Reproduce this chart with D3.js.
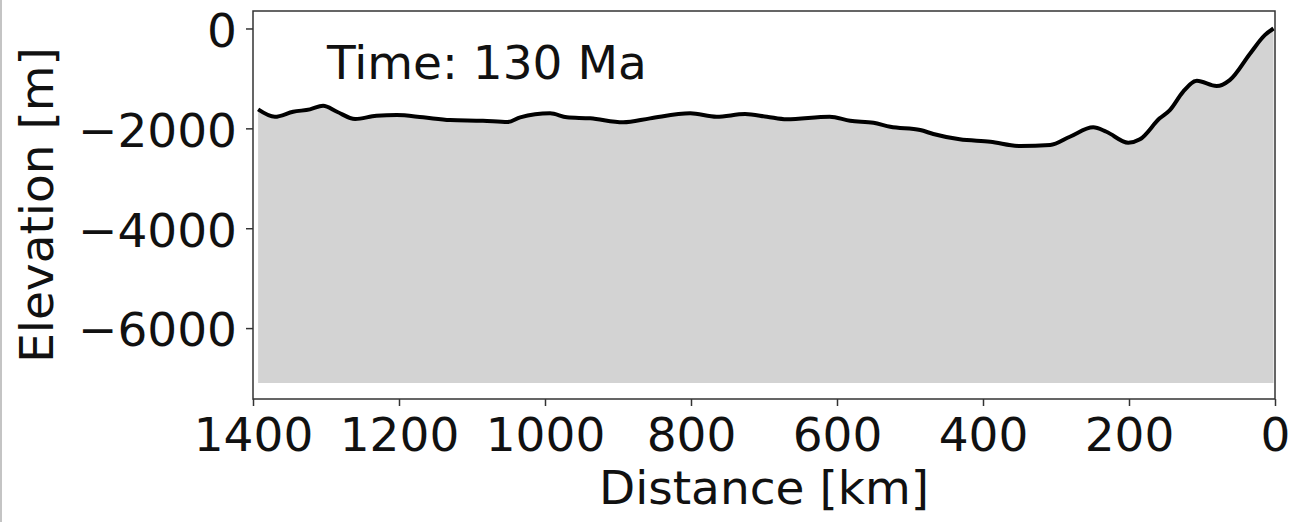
<!doctype html>
<html>
  <head>
    <meta charset="utf-8">
    <title>Elevation profile</title>
    <style>
      body { margin: 0; background: #fff; }
      svg { display: block; font-family: "DejaVu Sans", sans-serif; }
      .frame { fill: none; stroke: #333; stroke-width: 1.5px; }
      .tick line { stroke: #333; stroke-width: 1.5px; }
      .tick text { font-family: "DejaVu Sans", sans-serif; font-size: 47px; fill: #111; }
      .domain { display: none; }
    </style>
  </head>
  <body>

  <script src="https://d3js.org/d3.v7.min.js" charset="utf-8"></script>

  <script>
    // distance from margin (km) and elevation (m)
    var distance = [1393, 1370, 1345, 1322, 1304, 1285, 1260, 1231, 1203, 1167,
                    1130, 1085, 1051, 1034, 993, 970, 938, 893, 856, 801,
                    765, 726, 696, 669, 610, 582, 550, 527, 486, 468,
                    432, 390, 349, 308, 281, 249, 231, 201, 185, 158,
                    144, 126, 107, 80, 62, 34, 14, 2];
    var elevation = [-1620, -1768, -1668, -1620, -1548, -1668, -1814, -1748, -1734, -1780,
                     -1834, -1848, -1874, -1780, -1700, -1780, -1800, -1880, -1800, -1700,
                     -1768, -1714, -1768, -1820, -1768, -1848, -1888, -1968, -2034, -2114,
                     -2220, -2268, -2354, -2334, -2168, -1980, -2068, -2288, -2220, -1800,
                     -1634, -1268, -1048, -1154, -1034, -500, -134, 0];
    var baseDepth = -7100;
    var xTicks = [1400, 1200, 1000, 800, 600, 400, 200, 0];
    var yTicks = [0, -2000, -4000, -6000];
    var timeLabel = "Time: 130 Ma";

    var width = 1296, height = 522;
    var plotL = 253, plotR = 1275, plotT = 11, plotB = 399;

    var svg = d3.select("body").append("svg")
      .attr("width", width)
      .attr("height", height);

    // thin grey edge on the left of the picture
    svg.append("line")
      .attr("x1", 1).attr("x2", 1)
      .attr("y1", 0).attr("y2", height)
      .attr("stroke", "#c4c4c4")
      .attr("stroke-width", 2);

    var x = d3.scaleLinear().domain([1400, 0]).range([plotL, plotR]);
    var y = d3.scaleLinear().domain([-7420, 350]).range([plotB, plotT]);

    var pts = distance.map(function(d, i) { return [d, elevation[i]]; });

    var area = d3.area()
      .x(function(d) { return x(d[0]); })
      .y0(y(baseDepth))
      .y1(function(d) { return y(d[1]); })
      .curve(d3.curveMonotoneX);

    var line = d3.line()
      .x(function(d) { return x(d[0]); })
      .y(function(d) { return y(d[1]); })
      .curve(d3.curveMonotoneX);

    svg.append("path")
      .datum(pts)
      .attr("fill", "#d3d3d3")
      .attr("d", area);

    svg.append("path")
      .datum(pts)
      .attr("fill", "none")
      .attr("stroke", "#000")
      .attr("stroke-width", 4)
      .attr("stroke-linejoin", "round")
      .attr("d", line);

    svg.append("rect")
      .attr("class", "frame")
      .attr("x", plotL).attr("y", plotT)
      .attr("width", plotR - plotL).attr("height", plotB - plotT);

    var fmt = function(d) { return d < 0 ? "\u2212" + Math.abs(d) : String(d); };

    svg.append("g")
      .attr("transform", "translate(0," + plotB + ")")
      .call(d3.axisBottom(x).tickValues(xTicks).tickFormat(fmt).tickSize(7).tickPadding(12));

    svg.append("g")
      .attr("transform", "translate(" + plotL + ",0)")
      .call(d3.axisLeft(y).tickValues(yTicks).tickFormat(fmt).tickSize(7).tickPadding(9))
      .selectAll(".tick text").attr("dy", "0.38em");

    svg.append("text")
      .attr("x", (plotL + plotR) / 2)
      .attr("y", 504)
      .attr("text-anchor", "middle")
      .style("font-size", "47px")
      .attr("fill", "#111")
      .text("Distance [km]");

    svg.append("text")
      .attr("transform", "translate(53," + (plotT + plotB) / 2 + ") rotate(-90)")
      .attr("text-anchor", "middle")
      .style("font-size", "47px")
      .attr("fill", "#111")
      .text("Elevation [m]");

    svg.append("text")
      .attr("x", 327)
      .attr("y", 79)
      .style("font-size", "47px")
      .attr("fill", "#111")
      .text(timeLabel);
  </script>

  </body>
</html>
